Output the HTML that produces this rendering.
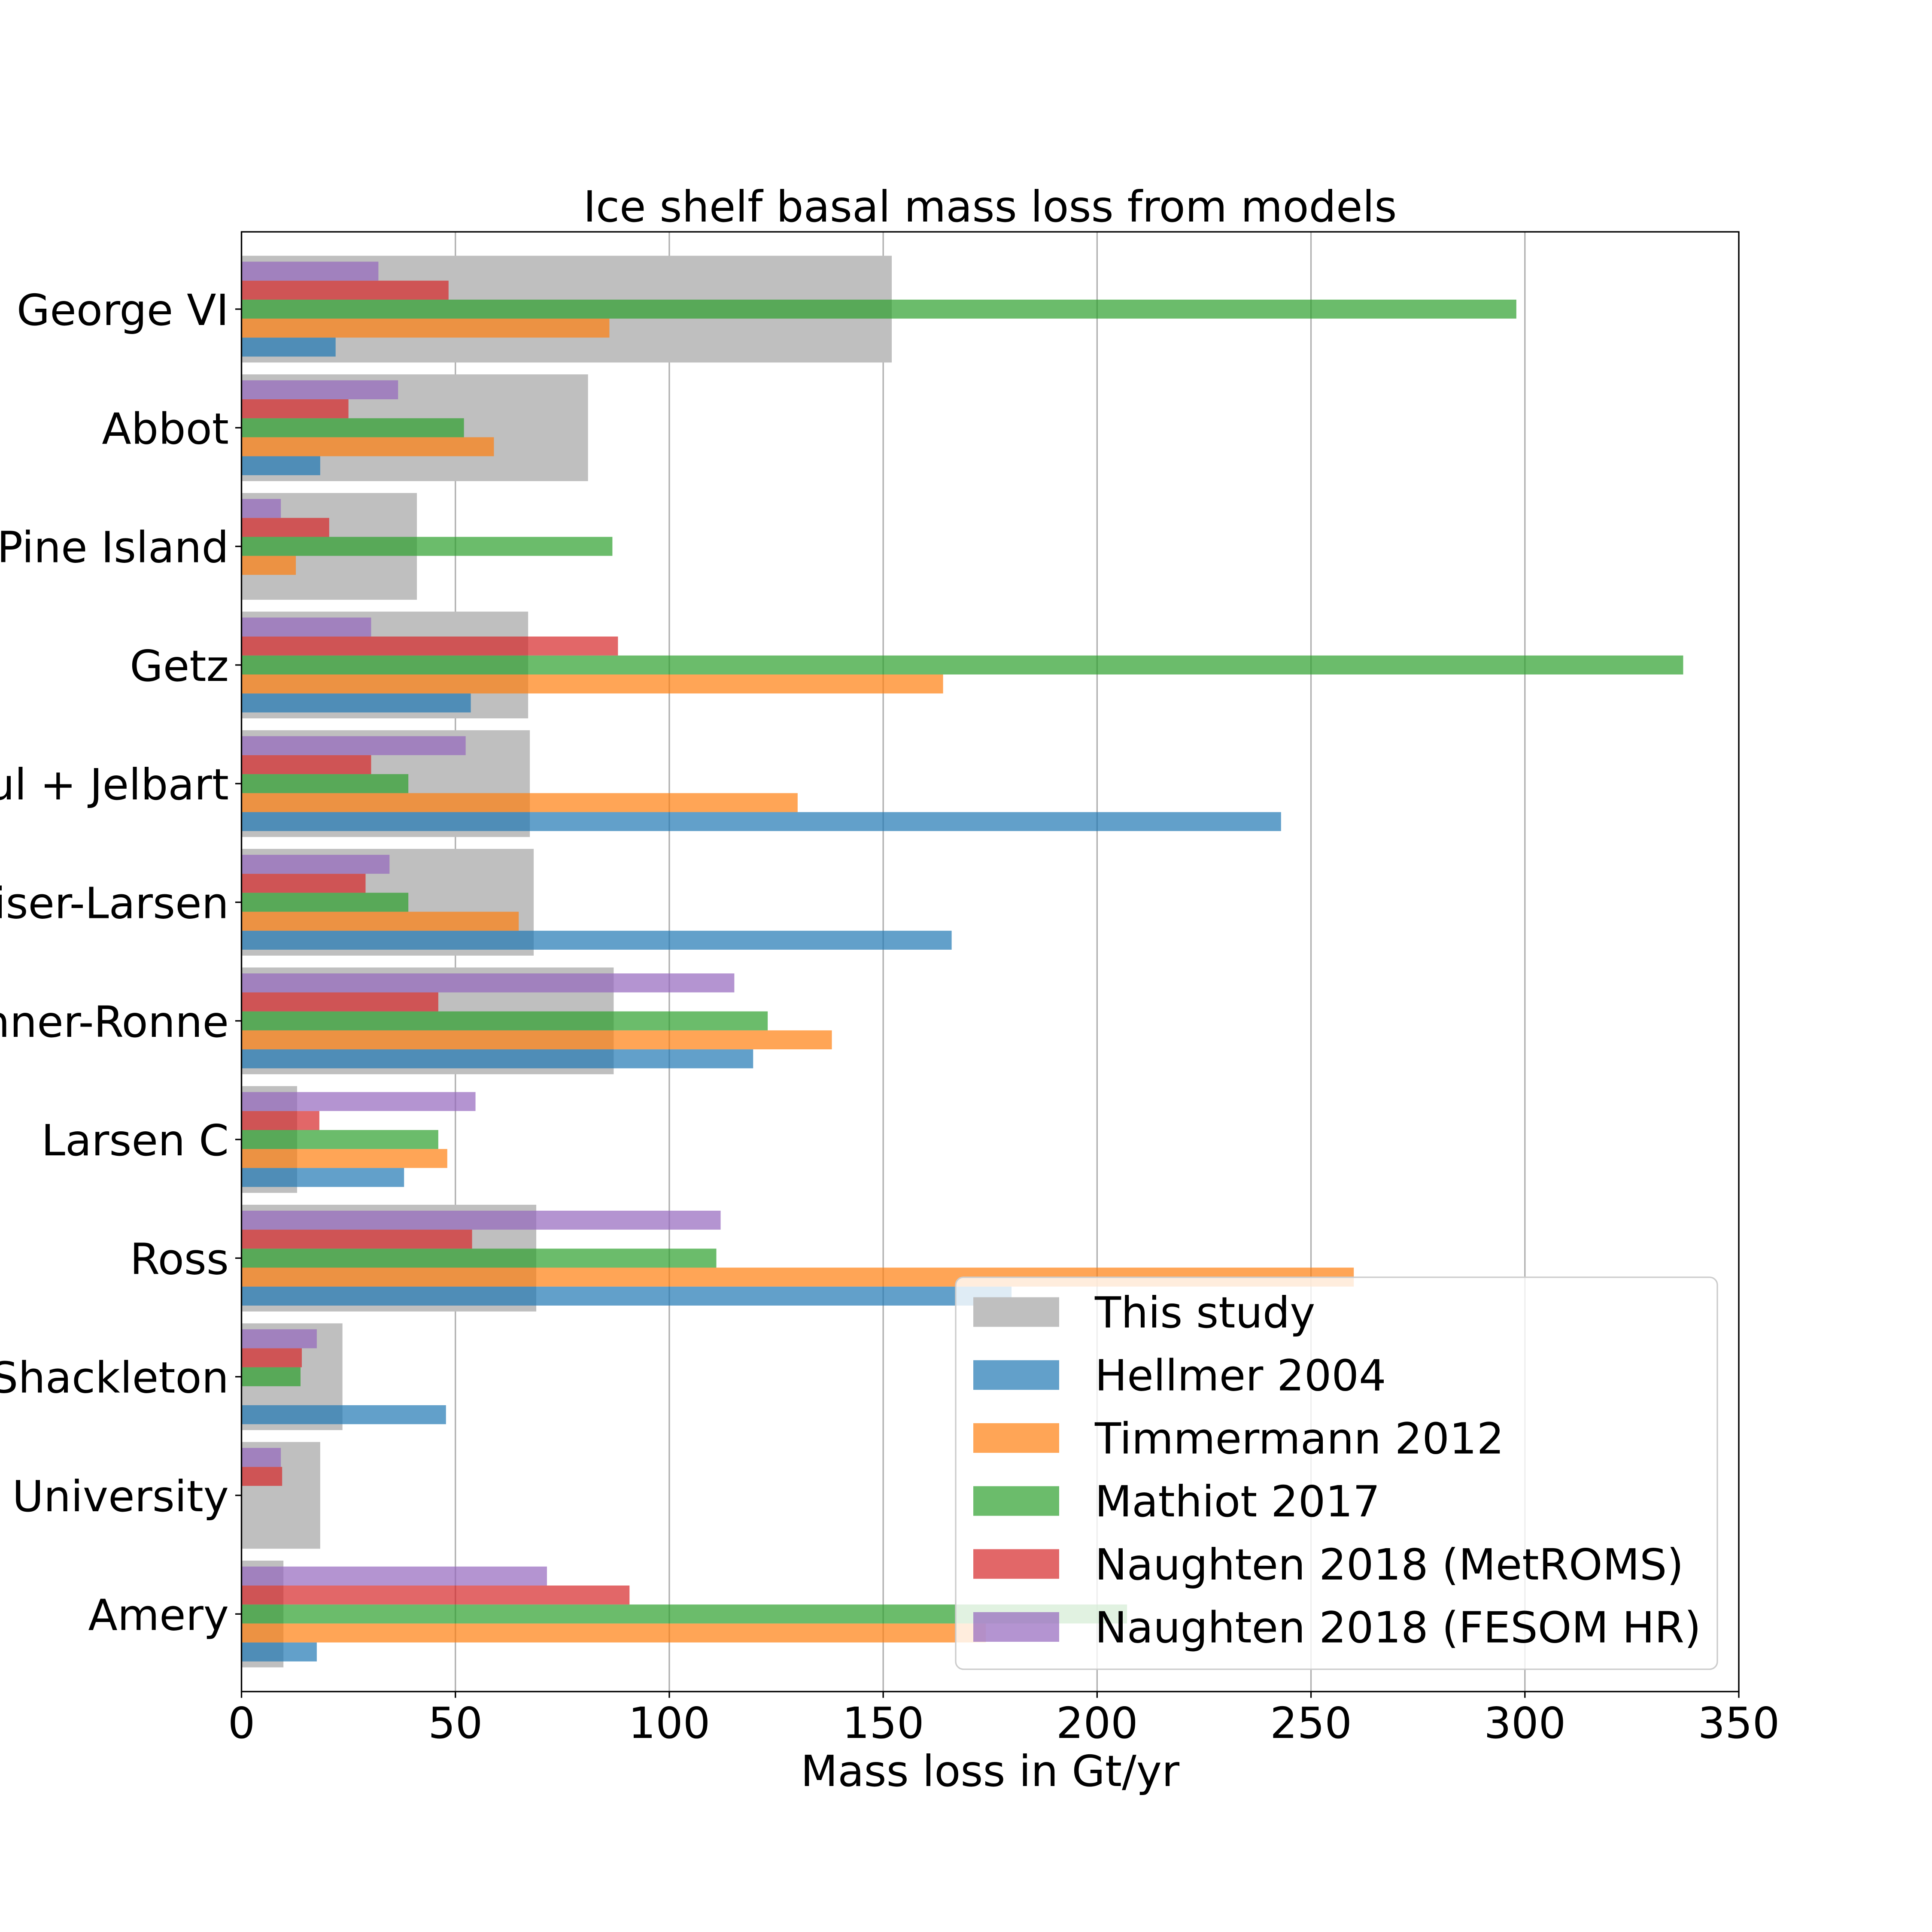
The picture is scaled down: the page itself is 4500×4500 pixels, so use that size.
<!DOCTYPE html>
<html><head><meta charset="utf-8">
<style>
html,body{margin:0;padding:0;background:#fff;}
svg{display:block;font-family:"DejaVu Sans","Liberation Sans",sans-serif;}
</style></head>
<body>
<svg id="chart" width="4500" height="4500" viewBox="0 0 4500 4500" xmlns="http://www.w3.org/2000/svg">
<rect x="0" y="0" width="4500" height="4500" fill="#fff"/>
<g id="grid"></g>
<g id="bars"></g>
<g id="axes"></g>
<g id="legend"></g>
<text x="2306" y="516" font-size="100" text-anchor="middle">Ice shelf basal mass loss from models</text>
<text x="2306" y="4160" font-size="100" text-anchor="middle">Mass loss in Gt/yr</text>
</svg>
<script>
const categories = ["George VI","Abbot","Pine Island","Getz","Fimbul + Jelbart","Riiser-Larsen","Filchner-Ronne","Larsen C","Ross","Shackleton","University","Amery"];
const thisStudy = [152,81,41,67,67.4,68.3,87,13,68.9,23.6,18.4,9.8];
const hellmer = [22,18.4,0,53.6,243,166,119.6,38,180,47.8,0,17.6];
const timmermann = [86,59,12.7,164,130,64.8,138,48.1,260,0,0,174];
const mathiot = [298,52,86.7,337,39,39,123,46,111,13.8,0,207];
const metroms = [48.4,25,20.5,88,30.3,29,46,18.2,53.9,14.1,9.5,90.7];
const fesom = [32,36.6,9.2,30.3,52.4,34.6,115.2,54.7,112,17.6,9.2,71.4];
const xTicks = [0,50,100,150,200,250,300,350];
const seriesNames = ["This study","Hellmer 2004","Timmermann 2012","Mathiot 2017","Naughten 2018 (MetROMS)","Naughten 2018 (FESOM HR)"];

const NS="http://www.w3.org/2000/svg";
const X0=562.5, X1=4050, Y0=540, Y1=3940, XMAX=350;
const SP=276.3, C0=720;
function xs(v){return X0+(v/XMAX)*(X1-X0);}
function yc(i){return C0+i*SP;}
function mk(tag,attrs,parent){const e=document.createElementNS(NS,tag);for(const k in attrs)e.setAttribute(k,attrs[k]);parent.appendChild(e);return e;}

const grid=document.getElementById('grid');
const bars=document.getElementById('bars');
const axes=document.getElementById('axes');
const legend=document.getElementById('legend');

xTicks.forEach(t=>{
  const l=mk('line',{x1:xs(t),x2:xs(t),y1:Y0,y2:Y1,stroke:'#b0b0b0','stroke-width':3.3},grid);
  
  
});

const colors=['#1f77b4','#ff7f0e','#2ca02c','#d62728','#9467bd'];
const subSeries=[hellmer,timmermann,mathiot,metroms,fesom];
const subNames=['hellmer','timmermann','mathiot','metroms','fesom'];
const bh=SP*0.16;
categories.forEach((c,i)=>{
  const g=mk('rect',{x:X0,y:yc(i)-SP*0.45,width:xs(thisStudy[i])-X0,height:SP*0.9,fill:'#bfbfbf'},bars);
  
  
});
subSeries.forEach((arr,k)=>{
  categories.forEach((c,i)=>{
    // k=0 bottom (blue), k=4 top (purple)
    const top=yc(i)+SP*0.4-(k+1)*bh;
    const r=mk('rect',{x:X0,y:top,width:Math.max(0,xs(arr[i])-X0),height:bh,fill:colors[k],'fill-opacity':0.7},bars);
    
    
  });
});

// spines
mk('rect',{x:X0,y:Y0,width:X1-X0,height:Y1-Y0,fill:'none',stroke:'#000','stroke-width':3.3},axes);
xTicks.forEach(t=>{
  const tk=mk('line',{x1:xs(t),x2:xs(t),y1:Y1,y2:Y1+14.6,stroke:'#000','stroke-width':3.3},axes);
  
  
  const tl=mk('text',{x:xs(t),y:4048,'font-size':100,'text-anchor':'middle'},axes);
  tl.textContent=t;
  
  
});
categories.forEach((c,i)=>{
  const tk=mk('line',{x1:X0-14.6,x2:X0,y1:yc(i),y2:yc(i),stroke:'#000','stroke-width':3.3},axes);
  
  
  const tl=mk('text',{x:533,y:yc(i)+37,'font-size':100,'text-anchor':'end'},axes);
  tl.textContent=c;
  
  
});

// legend
const lb=mk('rect',{x:2226,y:2975,width:1774,height:913,rx:18,fill:'#fff','fill-opacity':0.8,stroke:'#cccccc','stroke-width':3.3},legend);


const lcolors=['#bfbfbf'].concat(colors);
seriesNames.forEach((n,k)=>{
  const cy=3056+k*146.7;
  const p=mk('rect',{x:2267,y:cy-34.5,width:200,height:69,fill:lcolors[k],'fill-opacity':k===0?1:0.7},legend);
  
  
  const t=mk('text',{x:2550,y:cy+36,'font-size':100},legend);
  t.textContent=n;
  
  
});
</script>
</body></html>
